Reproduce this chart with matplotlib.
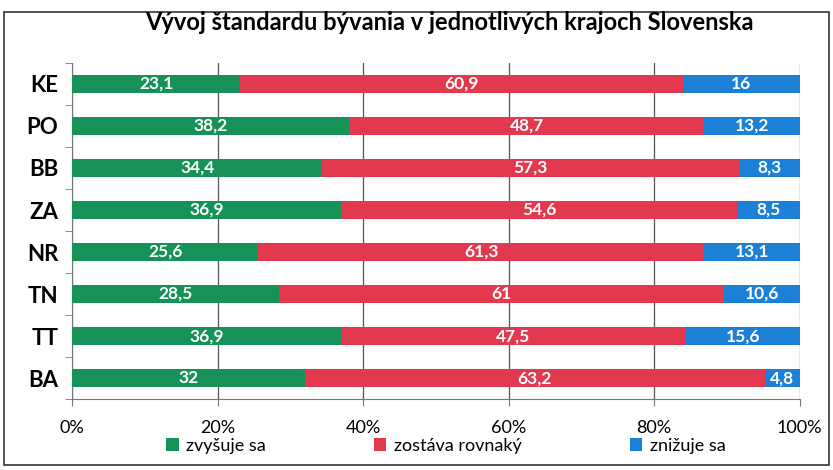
import matplotlib
matplotlib.use("Agg")
import matplotlib.pyplot as plt
from matplotlib.patches import Rectangle
from matplotlib.ticker import FuncFormatter, FixedLocator

regions = ["BA", "TT", "TN", "NR", "ZA", "BB", "PO", "KE"]
increase = [32, 36.9, 28.5, 25.6, 36.9, 34.4, 38.2, 23.1]
same = [63.2, 47.5, 61, 61.3, 54.6, 57.3, 48.7, 60.9]
decrease = [4.8, 15.6, 10.6, 13.1, 8.5, 8.3, 13.2, 16]
series_names = ["zvyšuje sa", "zostáva rovnaký", "znižuje sa"]
title = "Vývoj štandardu bývania v jednotlivých krajoch Slovenska"

colors = ["#169259", "#e2394f", "#1b80d6"]
font = "Lato"

fig = plt.figure(figsize=(8.33, 4.7), dpi=100)
ax = fig.add_axes([0.0865, 0.151, 0.8735, 0.715])

y = list(range(len(regions)))
left = [0] * len(regions)
for vals, col, name in zip([increase, same, decrease], colors, series_names):
    ax.barh(y, vals, left=left, height=0.43, color=col, label=name, zorder=3)
    for yi, l, v in zip(y, left, vals):
        txt = f"{v:g}".replace(".", ",")
        ax.text(l + v / 2, yi, txt, ha="center", va="center", color="white",
                fontsize=12.5, fontweight="bold", family=font, zorder=4)
    left = [a + b for a, b in zip(left, vals)]

ax.set_xlim(0, 100)
ax.set_ylim(-0.5, len(regions) - 0.5)
ax.set_xticks([0, 20, 40, 60, 80, 100])
ax.xaxis.set_major_formatter(FuncFormatter(lambda v, p: f"{int(v)}%"))
ax.grid(axis="x", color="#555555", linewidth=0.9, zorder=0)
ax.set_yticks(y)
ax.set_yticklabels(regions, fontsize=16, fontweight="bold", family=font)
ax.yaxis.set_minor_locator(FixedLocator([i - 0.5 for i in range(len(regions) + 1)]))
ax.tick_params(axis="y", which="major", length=0, pad=10)
ax.tick_params(axis="y", which="minor", length=5, color="#777777")
ax.tick_params(axis="x", length=5, color="#777777", pad=10, labelsize=13)
for lab in ax.get_xticklabels():
    lab.set_family(font)
for s in ["top", "right"]:
    ax.spines[s].set_visible(False)
ax.spines["left"].set_color("#777777")
ax.spines["bottom"].set_color("#777777")

fig.text(0.54, 0.952, title, ha="center", va="center", fontsize=17,
         fontweight="bold", family=font)

leg = fig.legend(loc="center", bbox_to_anchor=(0.535, 0.052), ncol=3, frameon=False,
                 prop={"family": font, "size": 13}, handlelength=0.7, handleheight=0.7,
                 columnspacing=6, handletextpad=0.4)

fig.patches.append(Rectangle((0.005, 0.01), 0.99, 0.965, transform=fig.transFigure,
                             fill=False, edgecolor="#333333", linewidth=1.2))

fig.savefig("out.png", dpi=100)
